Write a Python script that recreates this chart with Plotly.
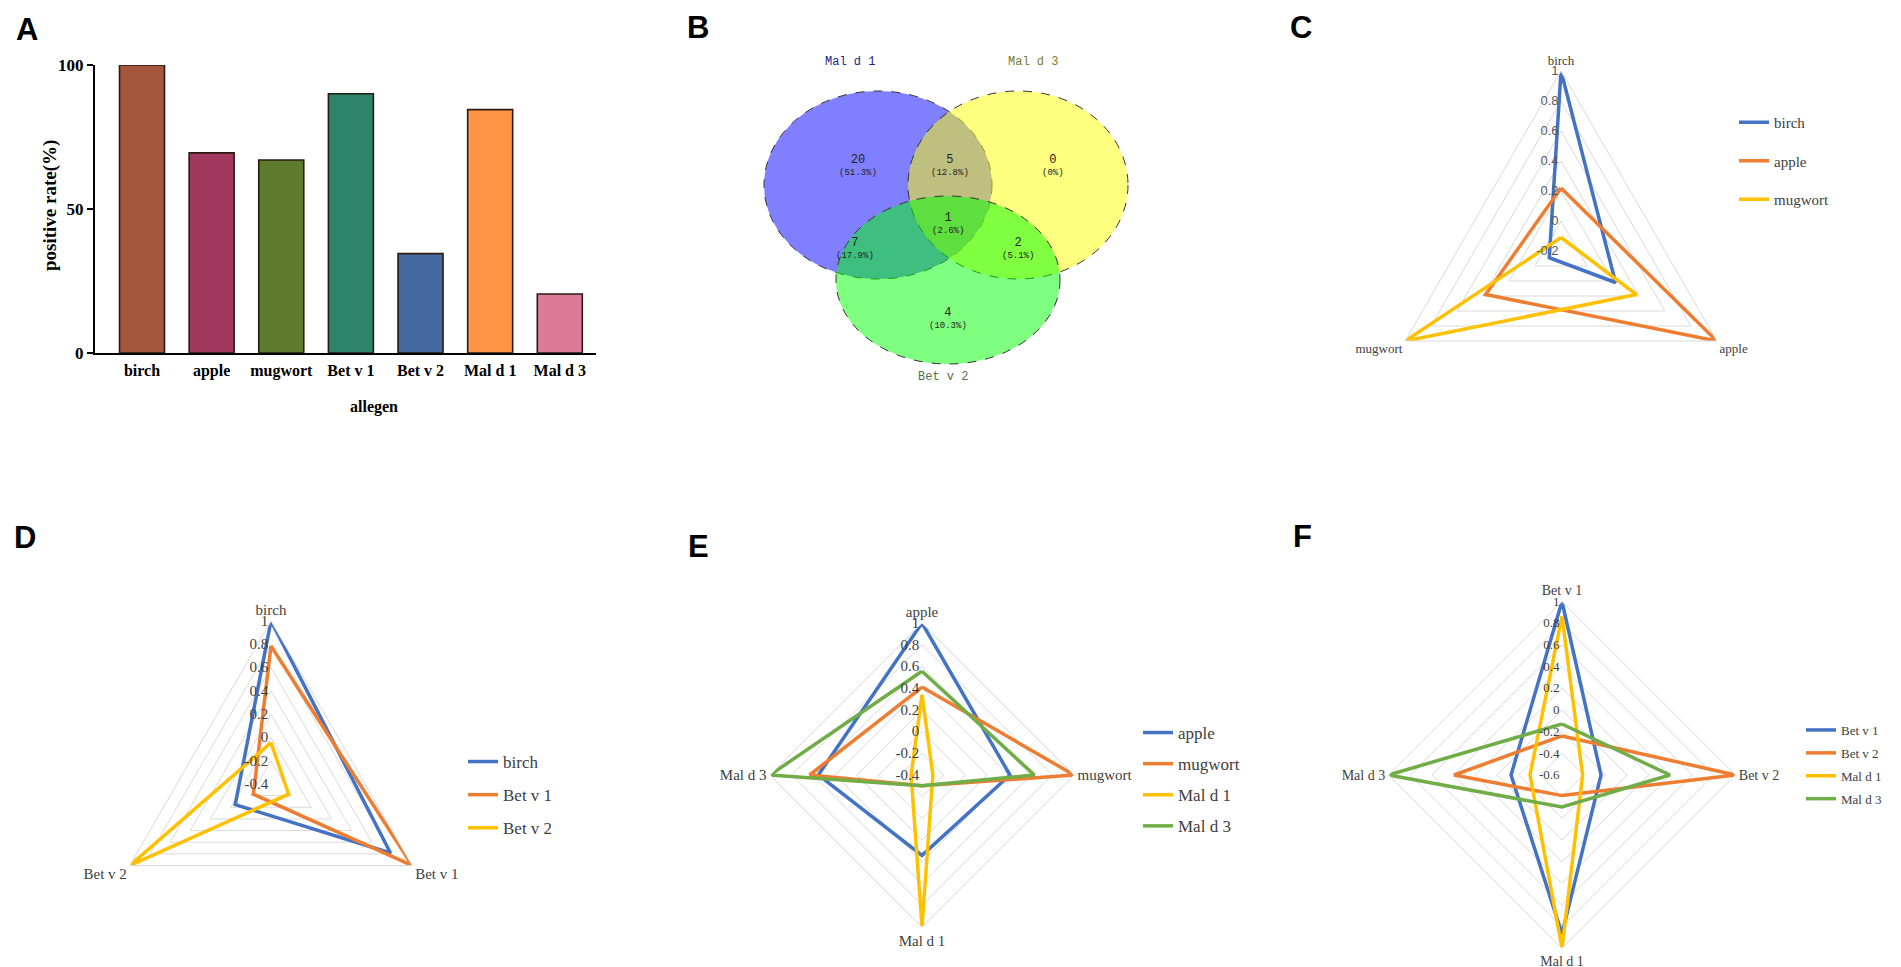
import plotly.graph_objects as go

W, H = 1901, 967

# ---------------- Panel A data ----------------
allergens = ["birch", "apple", "mugwort", "Bet v 1", "Bet v 2", "Mal d 1", "Mal d 3"]
positive_rate = [100, 69.5, 67, 90, 34.5, 84.5, 20.5]
bar_colors = ["#A5573D", "#A0395D", "#5E7B2E", "#2C8469", "#44699E", "#FF9544", "#DC7A99"]
a_ticks = [0, 50, 100]

# ---------------- Panel B data ----------------
venn_sets = ["Mal d 1", "Mal d 3", "Bet v 2"]
venn_counts = ["20", "5", "0", "1", "7", "2", "4"]
venn_pcts = ["(51.3%)", "(12.8%)", "(0%)", "(2.6%)", "(17.9%)", "(5.1%)", "(10.3%)"]

# ---------------- Panel C data ----------------
c_axes = ["birch", "apple", "mugwort"]
c_birch = [1.0, 0.22, -0.11]
c_apple = [0.22, 1.0, 0.38]
c_mugwort = [-0.11, 0.38, 1.0]

# ---------------- Panel D data ----------------
d_axes = ["birch", "Bet v 1", "Bet v 2"]
d_birch = [1.0, 0.785, -0.045]
d_betv1 = [0.785, 1.0, -0.225]
d_betv2 = [-0.045, -0.225, 1.0]

# ---------------- Panel E data ----------------
e_axes = ["apple", "mugwort", "Mal d 1", "Mal d 3"]
e_apple = [1.0, 0.41, 0.34, 0.555]
e_mugwort = [0.41, 1.0, -0.30, 0.635]
e_mald1 = [0.34, -0.30, 1.0, -0.30]
e_mald3 = [0.555, 0.635, -0.30, 1.0]

# ---------------- Panel F data ----------------
f_axes = ["Bet v 1", "Bet v 2", "Mal d 1", "Mal d 3"]
f_betv1 = [1.0, -0.24, 0.865, -0.13]
f_betv2 = [-0.24, 1.0, -0.41, 0.395]
f_mald1 = [0.865, -0.41, 1.0, -0.305]
f_mald3 = [-0.13, 0.395, -0.305, 1.0]

radar_colors = ["#4472C4", "#ED7D31", "#FFC000", "#70AD47"]


def X(px):
    return px / W


def Y(py):
    return 1 - py / H


fig = go.Figure()

# ---------------- Panel A ----------------
fig.add_trace(go.Bar(
    x=allergens, y=positive_rate, width=0.646,
    marker=dict(color=bar_colors, line=dict(color="#2A1A12", width=1.6)),
    xaxis="x", yaxis="y", showlegend=False,
))

serif = "Liberation Serif"
mono = "Liberation Mono"

fig.update_layout(
    xaxis=dict(domain=[X(87), X(588)], anchor="y", range=[-0.675, 6.52],
               showline=True, linecolor="black", linewidth=2, ticks="",
               showgrid=False, zeroline=False, ticklabelstandoff=2,
               tickfont=dict(family=serif, size=16, color="black", weight="bold")),
    yaxis=dict(domain=[Y(345), Y(57)], anchor="x", range=[0, 100],
               showline=True, linecolor="black", linewidth=2, ticks="outside",
               ticklen=6, tickwidth=2, tickcolor="black", tickvals=a_ticks,
               showgrid=False, zeroline=False,
               tickfont=dict(family=serif, size=17, color="black", weight="bold")),
)

annotations = []


def add_text(px, py, text, font, angle=0):
    annotations.append(dict(x=X(px), y=Y(py), xref="paper", yref="paper", text=text,
                            xanchor="center", yanchor="middle", textangle=angle,
                            showarrow=False, font=font))


add_text(42, 198, "positive rate(%)", dict(family=serif, size=19, color="black", weight="bold"), -90)
add_text(366, 399, "allegen", dict(family=serif, size=16, color="black", weight="bold"))

# panel letters
for letter, lx, ly in [("A", 19, 21), ("B", 690, 19), ("C", 1293, 19),
                       ("D", 17, 529), ("E", 690, 538), ("F", 1294, 528)]:
    add_text(lx, ly, letter, dict(family="Liberation Sans", size=31, color="black", weight="bold"))

# ---------------- Panel B (Venn) ----------------
shapes = []
venn_geom = [  # center x, center y, rx, ry  (pixels)
    (870, 177, 114, 94),
    (1010, 177, 110, 94),
    (940, 272, 112, 84),
]
venn_fills = ["rgba(0,0,255,0.5)", "rgba(255,255,0,0.5)", "rgba(0,255,0,0.5)"]
for (cx, cy, rx, ry), fc in zip(venn_geom, venn_fills):
    shapes.append(dict(type="circle", xref="paper", yref="paper",
                       x0=X(cx - rx), x1=X(cx + rx), y0=Y(cy + ry), y1=Y(cy - ry),
                       fillcolor=fc, line=dict(color="#333333", width=1, dash="dash"),
                       layer="below"))

venn_label_pos = [(842, 54), (1025, 54), (935, 369)]
venn_label_col = ["#22228A", "#7A7A30", "#4F6F4F"]
for name, (lx, ly), col in zip(venn_sets, venn_label_pos, venn_label_col):
    add_text(lx, ly, name, dict(family=mono, size=12, color=col))

venn_region_pos = [(850, 157), (942, 157), (1045, 157), (940, 216), (847, 240), (1010, 240), (940, 310)]
for cnt, pct, (lx, ly) in zip(venn_counts, venn_pcts, venn_region_pos):
    add_text(lx, ly, "<span style='font-size:12px'>" + cnt + "</span><br>" + pct,
             dict(family=mono, size=9, color="#222222"))


# ---------------- Radar panels ----------------
def polar_cfg(cx, cy, R, rmin, cats, tickfont, labelfont):
    tv = [round(rmin + 0.2 * k, 1) for k in range(int(round((1 - rmin) / 0.2)) + 1)]
    tt = [("%g" % v) for v in tv]
    return dict(
        domain=dict(x=[X(cx - R), X(cx + R)], y=[Y(cy + R), Y(cy - R)]),
        gridshape="linear", bgcolor="rgba(0,0,0,0)",
        radialaxis=dict(range=[rmin, 1], tickvals=tv, ticktext=tt, angle=90, tickangle=90,
                        side="counterclockwise", showline=False, ticks="",
                        gridcolor="#D9D9D9", gridwidth=1, tickfont=tickfont),
        angularaxis=dict(rotation=90, direction="clockwise", showgrid=False,
                         linecolor="#D9D9D9", linewidth=1, ticks="",
                         type="category", categoryarray=cats, tickfont=labelfont),
    )


def add_radar(subplot, legend, cats, series, names):
    for vals, nm, col in zip(series, names, radar_colors):
        fig.add_trace(go.Scatterpolar(
            r=vals + vals[:1], theta=cats + cats[:1], mode="lines", name=nm,
            line=dict(color=col, width=3.5), subplot=subplot, legend=legend,
            legendgroup=subplot + nm,
        ))


add_radar("polar", "legend", c_axes, [c_birch, c_apple, c_mugwort], c_axes)
add_radar("polar2", "legend2", d_axes, [d_birch, d_betv1, d_betv2], d_axes)
add_radar("polar3", "legend3", e_axes, [e_apple, e_mugwort, e_mald1, e_mald3], e_axes)
add_radar("polar4", "legend4", f_axes, [f_betv1, f_betv2, f_mald1, f_mald3], f_axes)

tick_c = dict(family="Liberation Sans", size=13, color="#595959")
lab_c = dict(family=serif, size=13, color="#404040")
tick_s = dict(family=serif, size=15, color="#404040")
lab_s = dict(family=serif, size=15, color="#404040")

fig.update_layout(
    polar=polar_cfg(1553, 243, 180, -0.2, c_axes, tick_c, lab_c),
    polar2=polar_cfg(263, 776, 163, -0.4, d_axes, tick_s, lab_s),
    polar3=polar_cfg(914, 767, 152, -0.4, e_axes, tick_s, lab_s),
    polar4=polar_cfg(1554, 767, 173.5, -0.6, f_axes, dict(family=serif, size=13, color="#404040"),
                     dict(family=serif, size=14, color="#404040")),
    legend=dict(x=X(1726), y=Y(98), xanchor="left", yanchor="top", tracegroupgap=16,
                bgcolor="rgba(0,0,0,0)", font=dict(family=serif, size=15, color="#404040")),
    legend2=dict(x=X(455), y=Y(736), xanchor="left", yanchor="top", tracegroupgap=8,
                 bgcolor="rgba(0,0,0,0)", font=dict(family=serif, size=17, color="#404040")),
    legend3=dict(x=X(1130), y=Y(707), xanchor="left", yanchor="top", tracegroupgap=6,
                 bgcolor="rgba(0,0,0,0)", font=dict(family=serif, size=17, color="#404040")),
    legend4=dict(x=X(1793), y=Y(707), xanchor="left", yanchor="top", tracegroupgap=3,
                 bgcolor="rgba(0,0,0,0)", font=dict(family=serif, size=13, color="#404040")),
)

fig.update_layout(
    width=W, height=H, autosize=False,
    margin=dict(l=0, r=0, t=0, b=0, pad=0, autoexpand=False),
    paper_bgcolor="white", plot_bgcolor="white",
    annotations=annotations, shapes=shapes,
    font=dict(family=serif),
)

fig.write_html("out.html")
